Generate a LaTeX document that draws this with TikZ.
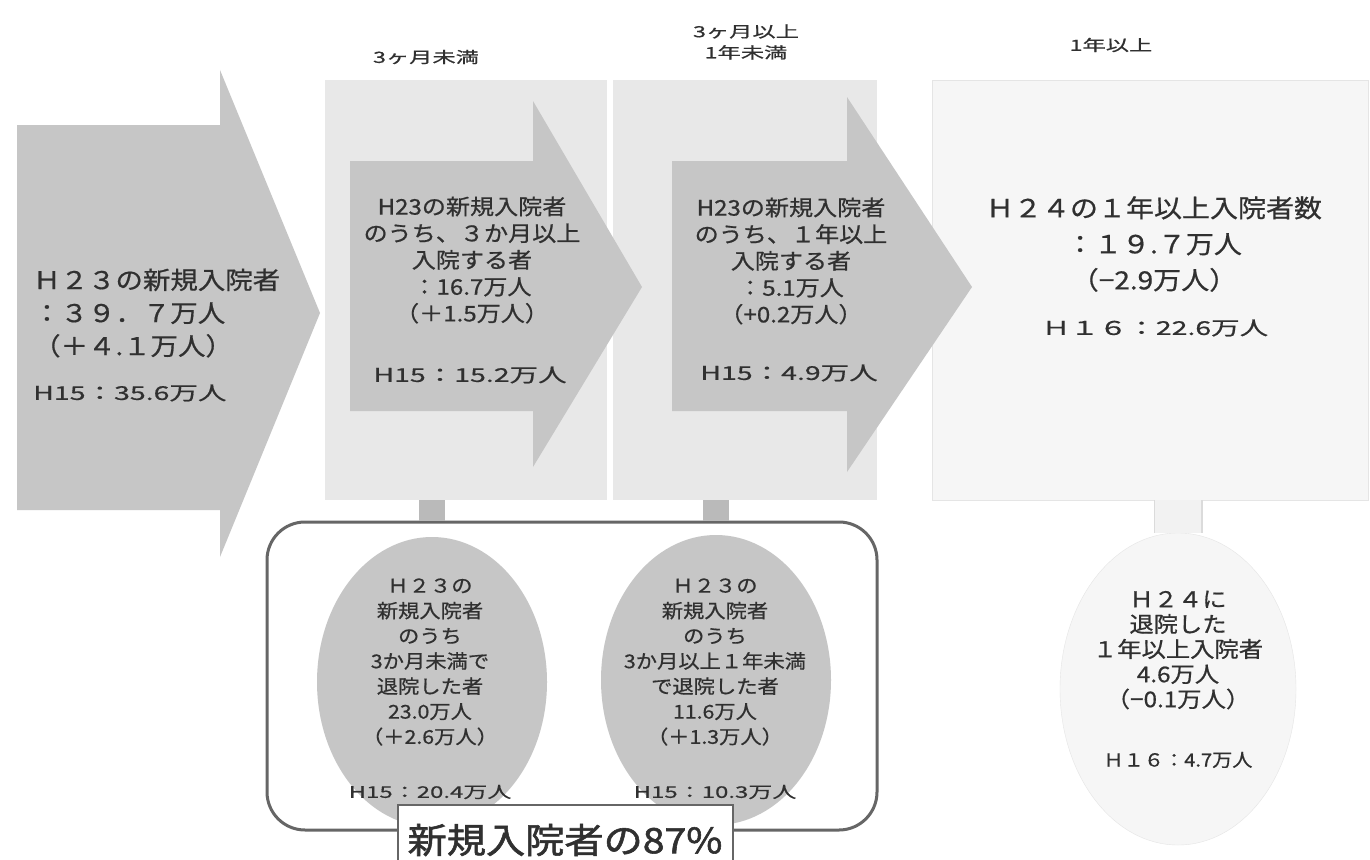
\documentclass[tikz,border=0pt]{standalone}
\usepackage{fontspec}
\usetikzlibrary{shapes.geometric,positioning}
\newfontfamily\jp[FakeStretch=1.12, FakeBold=0.7]{Noto Sans CJK JP}
\newfontfamily\jpwide[FakeStretch=1.5, FakeBold=0.6]{Noto Sans CJK JP}
\newfontfamily\jpheavy[FakeStretch=1.12, FakeBold=1.6]{Noto Sans CJK JP}
\newcommand\fsz[2]{\fontsize{#1}{#2}\selectfont}

\definecolor{arrowgray}{HTML}{C6C6C6}
\definecolor{panegray}{HTML}{E8E8E8}
\definecolor{palegray}{HTML}{F6F6F6}
\definecolor{ink}{HTML}{303030}
\definecolor{framegray}{HTML}{666666}

\tikzset{
  pane/.style={fill=panegray, inner sep=0pt}, % light column boxes
  paleedge/.style={fill=palegray, draw=black!10},
  bigarrow/.style={fill=arrowgray},
  oval/.style={ellipse, fill=arrowgray, minimum width=230pt, minimum height=290pt, inner sep=0pt},
  txt/.style={text=ink, align=center, inner sep=0pt},
  link/.style={draw=black!27, line width=26pt},
  palelink/.style={draw=black!14, double=black!5, double distance=46pt, line width=1.5pt},
}

\begin{document}
\begin{tikzpicture}[x=1pt, y=-1pt]
\useasboundingbox[fill=white] (0,0) rectangle (1370,859);

% column boxes
\node[pane, minimum width=282pt, minimum height=420pt] (box1) at (466,290) {};
\node[pane, minimum width=264pt, minimum height=420pt] (box2) at (745,290) {};
\node[pane, paleedge, minimum width=436pt, minimum height=420pt] (box3) at (1150,290) {};

% column heads
\node[txt, font=\jpwide\fsz{15.5}{21}] (head1) at (426,57) {3ヶ月未満};
\node[txt, font=\jpwide\fsz{15.5}{21}] (head2) at (746,42) {3ヶ月以上\\1年未満};
\node[txt, font=\jpwide\fsz{15.5}{21}] (head3) at (1111,45) {1年以上};

% arrows
\fill[bigarrow] (17,125) -- (220,125) -- (220,70) -- (320,313) -- (220,557) -- (220,510) -- (17,510) -- cycle;
\fill[bigarrow] (350,161) -- (533,161) -- (533,101) -- (642,287) -- (533,467) -- (533,411) -- (350,411) -- cycle;
\fill[bigarrow] (672,161) -- (847,161) -- (847,97) -- (972,287) -- (847,472) -- (847,411) -- (672,411) -- cycle;

% arrow texts
\node[txt, align=left, anchor=west, font=\jp\fsz{24.5}{33}] (newin) at (33,313) {Ｈ２３の新規入院者\\：３９．７万人\\（＋４.１万人）};
\node[txt, anchor=west, font=\jpwide\fsz{19}{22}] (newinold) at (33,393) {H15：35.6万人};

\node[txt, font=\jp\fsz{21.5}{26.7}] (stay3m) at (472,260) {H23の新規入院者\\のうち、３か月以上\\入院する者\\：16.7万人\\（＋1.5万人）};
\node[txt, font=\jpwide\fsz{19}{22}] (stay3mold) at (470,375) {H15：15.2万人};

\node[txt, font=\jp\fsz{21.5}{26.7}] (stay1y) at (791,261) {H23の新規入院者\\のうち、１年以上\\入院する者\\：5.1万人\\（+0.2万人）};
\node[txt, font=\jpwide\fsz{19}{22}] (stay1yold) at (789,373) {H15：4.9万人};

\node[txt, font=\jp\fsz{25}{36}] (long) at (1154,244) {Ｈ２４の１年以上入院者数\\：１９.７万人\\（−2.9万人）};
\node[txt, font=\jpwide\fsz{19}{22}] (longold) at (1155,328) {Ｈ１６：22.6万人};

% discharged
\node[draw=framegray, line width=3pt, rounded corners=38pt, minimum width=610pt, minimum height=308pt] (grp) at (572,676) {};
\node[oval] (ell1) at (432,682) {};
\node[oval] (ell2) at (716,680) {};
\node[oval, fill=palegray, draw=black!10, minimum width=236pt, minimum height=312pt] (ell3) at (1178,689) {};

\draw[link] (ell1 |- box1.south) -- (ell1 |- grp.north);
\draw[link] (ell2 |- box2.south) -- (ell2 |- grp.north);
\draw[palelink] (ell3 |- box3.south) -- (ell3.north);

\node[txt, font=\jp\fsz{19}{25.2}] (out3m) at (430,662) {Ｈ２３の\\新規入院者\\のうち\\3か月未満で\\退院した者\\23.0万人\\（＋2.6万人）};
\node[txt, font=\jpwide\fsz{16}{20}] (out3mold) at (430,792) {H15：20.4万人};

\node[txt, font=\jp\fsz{19}{25.2}] (out1y) at (715,662) {Ｈ２３の\\新規入院者\\のうち\\3か月以上１年未満\\で退院した者\\11.6万人\\（＋1.3万人）};
\node[txt, font=\jpwide\fsz{16}{20}] (out1yold) at (715,792) {H15：10.3万人};

\node[txt, font=\jp\fsz{21.7}{25}] (outlong) at (1178,650) {Ｈ２４に\\退院した\\１年以上入院者\\4.6万人\\（−0.1万人）};
\node[txt, font=\jp\fsz{18}{22}] (outlongold) at (1178,760) {Ｈ１６：4.7万人};

\node[draw=framegray, line width=2pt, fill=white, text=ink, font=\jpheavy\fsz{35}{40}, minimum width=335pt, minimum height=70pt] (share) at (565,840) {新規入院者の87\%};
\end{tikzpicture}
\end{document}
